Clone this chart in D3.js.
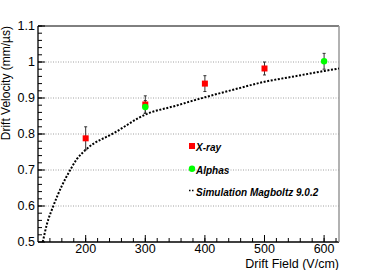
<!DOCTYPE html>
<html>
<head>
<meta charset="utf-8">
<script src="https://cdn.jsdelivr.net/npm/d3@7"></script>
<style>
  body { margin: 0; background: #fff; }
  svg { font-family: "Liberation Sans", Arial, sans-serif; }
</style>
</head>
<body>
<div id="chart"></div>
<script>
// measurements
const xrayField = [200, 300, 400, 500];
const xrayVel = [0.788, 0.882, 0.94, 0.982];
const xrayErr = [0.032, 0.024, 0.022, 0.018];

const alphaField = [300, 600];
const alphaVel = [0.875, 1.002];
const alphaErr = [0.018, 0.022];

// Magboltz curve
const simField = [128, 135, 145, 160, 174, 185, 200, 250, 300, 350, 400, 450, 500, 550, 600, 625];
const simVel = [0.5, 0.55, 0.597, 0.656, 0.7, 0.73, 0.756, 0.805, 0.854, 0.878, 0.902, 0.924, 0.945, 0.96, 0.975, 0.982];

const xTicks = [200, 300, 400, 500, 600];
const yTicks = [0.5, 0.6, 0.7, 0.8, 0.9, 1, 1.1];
const gridY = [0.6, 0.7, 0.8, 0.9, 1];

const W = 377, H = 270;
const margin = { top: 26, right: 38, bottom: 28, left: 38 };
const width = W - margin.left - margin.right;
const height = H - margin.top - margin.bottom;

const svg = d3.select("#chart").append("svg")
    .attr("width", W)
    .attr("height", H);

const g = svg.append("g")
    .attr("transform", "translate(" + margin.left + "," + margin.top + ")");

const x = d3.scaleLinear().domain([120, 625]).range([0, width]);
const y = d3.scaleLinear().domain([0.5, 1.1]).range([height, 0]);

// grid
g.selectAll(".grid")
    .data(gridY)
    .join("line")
    .attr("x1", 0).attr("x2", width)
    .attr("y1", d => y(d)).attr("y2", d => y(d))
    .attr("stroke", "#888")
    .attr("stroke-width", 0.8)
    .attr("stroke-dasharray", "1,1.5");

// minor ticks
const xMinor = d3.range(140, 625, 20);
const yMinor = d3.range(0.52, 1.1, 0.02);

g.selectAll(".xminor")
    .data(xMinor)
    .join("line")
    .attr("x1", d => x(d)).attr("x2", d => x(d))
    .attr("y1", height).attr("y2", height - 4)
    .attr("stroke", "#000");

g.selectAll(".yminor")
    .data(yMinor)
    .join("line")
    .attr("x1", 0).attr("x2", 4)
    .attr("y1", d => y(d)).attr("y2", d => y(d))
    .attr("stroke", "#000");

// major ticks
g.selectAll(".xmajor")
    .data(xTicks)
    .join("line")
    .attr("x1", d => x(d)).attr("x2", d => x(d))
    .attr("y1", height).attr("y2", height - 7)
    .attr("stroke", "#000");

g.selectAll(".ymajor")
    .data(yTicks)
    .join("line")
    .attr("x1", 0).attr("x2", 7)
    .attr("y1", d => y(d)).attr("y2", d => y(d))
    .attr("stroke", "#000");

// tick labels
g.selectAll(".xlab")
    .data(xTicks)
    .join("text")
    .attr("x", d => x(d))
    .attr("y", height + 11)
    .attr("text-anchor", "middle")
    .style("font-size", "12.5px")
    .text(d => d);

g.selectAll(".ylab")
    .data(yTicks)
    .join("text")
    .attr("x", -3)
    .attr("y", d => y(d) + 4)
    .attr("text-anchor", "end")
    .style("font-size", "12.5px")
    .text(d => d3.format("")(d));

// frame
g.append("line").attr("x1", 0).attr("x2", width).attr("y1", 0).attr("y2", 0).attr("stroke", "#000");
g.append("line").attr("x1", 0).attr("x2", width).attr("y1", height).attr("y2", height).attr("stroke", "#000").attr("stroke-width", 1.3);
g.append("line").attr("x1", 0).attr("x2", 0).attr("y1", 0).attr("y2", height).attr("stroke", "#000").attr("stroke-width", 1.3);
g.append("line").attr("x1", width).attr("x2", width).attr("y1", 0).attr("y2", height).attr("stroke", "#999").attr("stroke-width", 1.5);

// axis titles
g.append("text")
    .attr("x", width)
    .attr("y", height + 25.5)
    .attr("text-anchor", "end")
    .style("font-size", "12.5px")
    .text("Drift Field (V/cm)");

g.append("text")
    .attr("transform", "translate(" + (-28) + ",0) rotate(-90)")
    .attr("text-anchor", "end")
    .style("font-size", "12px")
    .text("Drift Velocity (mm/µs)");

// simulation curve
svg.append("clipPath").attr("id", "clip")
    .append("rect").attr("width", width).attr("height", height);

const simData = simField.map((f, i) => ({ f, v: simVel[i] }));
const line = d3.line()
    .x(d => x(d.f))
    .y(d => y(d.v))
    .curve(d3.curveMonotoneX);

g.append("path")
    .datum(simData)
    .attr("clip-path", "url(#clip)")
    .attr("fill", "none")
    .attr("stroke", "#000")
    .attr("stroke-width", 2)
    .attr("stroke-dasharray", "2,1.6")
    .attr("d", line);

// error bars + markers
const xray = xrayField.map((f, i) => ({ f, v: xrayVel[i], e: xrayErr[i] }));
const alpha = alphaField.map((f, i) => ({ f, v: alphaVel[i], e: alphaErr[i] }));

const drawErr = data => {
    const eg = g.append("g").attr("stroke", "#333").attr("stroke-width", 1);
    eg.selectAll(".bar").data(data).join("line")
        .attr("x1", d => x(d.f)).attr("x2", d => x(d.f))
        .attr("y1", d => y(d.v - d.e)).attr("y2", d => y(d.v + d.e));
    eg.selectAll(".capt").data(data).join("line")
        .attr("x1", d => x(d.f) - 1.5).attr("x2", d => x(d.f) + 1.5)
        .attr("y1", d => y(d.v + d.e)).attr("y2", d => y(d.v + d.e));
    eg.selectAll(".capb").data(data).join("line")
        .attr("x1", d => x(d.f) - 1.5).attr("x2", d => x(d.f) + 1.5)
        .attr("y1", d => y(d.v - d.e)).attr("y2", d => y(d.v - d.e));
};
drawErr(xray);
drawErr(alpha);

g.selectAll(".xray")
    .data(xray)
    .join("rect")
    .attr("x", d => x(d.f) - 3)
    .attr("y", d => y(d.v) - 3)
    .attr("width", 6).attr("height", 6)
    .attr("fill", "#f00");

g.selectAll(".alpha")
    .data(alpha)
    .join("circle")
    .attr("cx", d => x(d.f))
    .attr("cy", d => y(d.v))
    .attr("r", 3.2)
    .attr("fill", "#0f0");

// legend
const lg = svg.append("g").style("font-size", "10px").style("font-weight", "bold").style("font-style", "italic");
lg.append("rect").attr("x", 189).attr("y", 143).attr("width", 6).attr("height", 6).attr("fill", "#f00");
lg.append("text").attr("x", 196).attr("y", 151).text("X-ray");
lg.append("circle").attr("cx", 192).attr("cy", 168.7).attr("r", 3.2).attr("fill", "#0f0");
lg.append("text").attr("x", 196).attr("y", 174).text("Alphas");
lg.append("line").attr("x1", 189).attr("x2", 195).attr("y1", 190.5).attr("y2", 190.5)
    .attr("stroke", "#000").attr("stroke-width", 1.5).attr("stroke-dasharray", "1.5,1.5");
lg.append("text").attr("x", 196).attr("y", 196).text("Simulation Magboltz 9.0.2");
</script>
</body>
</html>
